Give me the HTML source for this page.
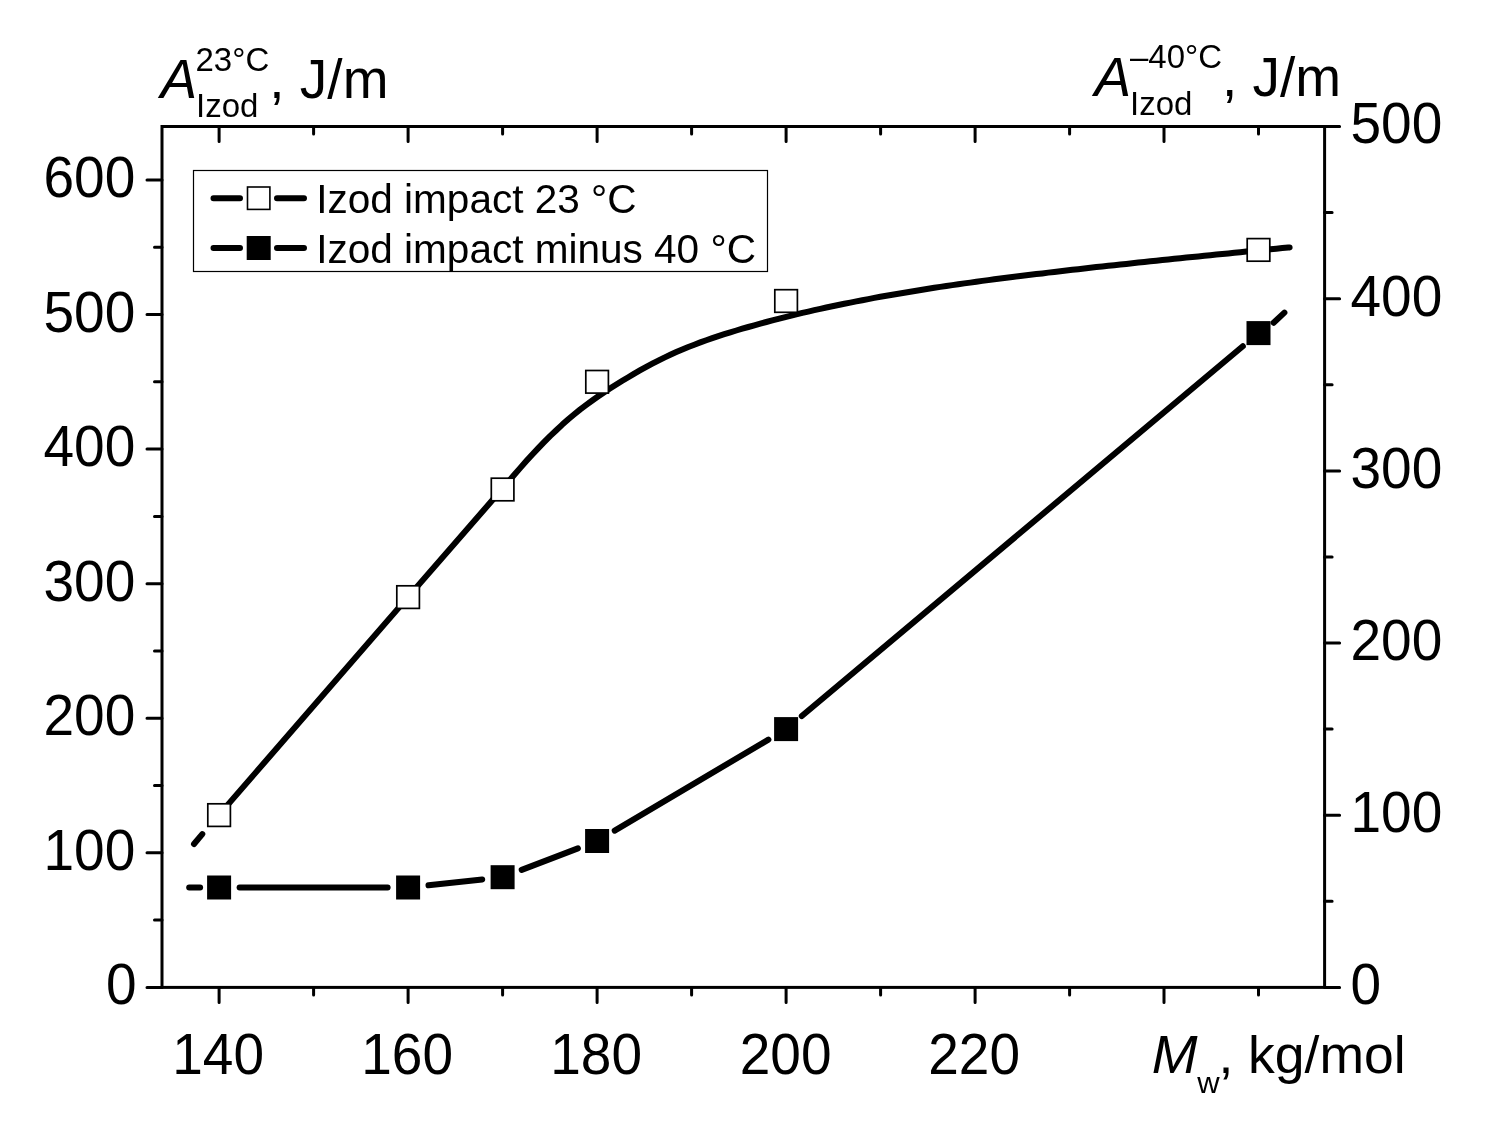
<!DOCTYPE html>
<html lang="en"><head><meta charset="utf-8"><title>Izod impact vs Mw</title>
<style>html,body{margin:0;padding:0;background:#fff}svg{display:block;will-change:transform}text{font-family:"Liberation Sans",sans-serif;fill:#000}</style></head><body>
<svg width="1491" height="1131" viewBox="0 0 1491 1131">
<rect width="1491" height="1131" fill="#fff"/>
<g fill="none" stroke="#000" stroke-width="6" stroke-linecap="round" stroke-linejoin="round">
<path d="M218.8,815.1 L408.0,597.1 L502.3,488.8 L508.3,481.7 L514.3,474.8 L520.3,467.9 L526.3,461.1 L532.3,454.5 L538.3,448.1 L544.3,441.9 L550.3,435.9 L556.3,430.2 L562.3,424.6 L568.3,419.3 L574.3,414.3 L580.3,409.4 L586.3,404.9 L592.3,400.5 L598.3,396.3 L604.3,392.2 L610.3,388.3 L616.3,384.5 L622.3,380.8 L628.3,377.2 L634.3,373.6 L640.3,370.2 L646.3,366.9 L652.3,363.7 L658.3,360.6 L664.3,357.6 L670.3,354.8 L676.3,352.1 L682.3,349.5 L688.3,347.0 L694.3,344.7 L700.3,342.4 L706.3,340.2 L712.3,338.1 L718.3,336.1 L724.3,334.2 L730.3,332.3 L736.3,330.5 L742.3,328.7 L748.3,327.0 L754.3,325.3 L760.3,323.6 L766.3,322.0 L772.3,320.4 L778.3,318.8 L784.3,317.3 L790.3,315.8 L796.3,314.4 L802.3,312.9 L808.3,311.6 L814.3,310.2 L820.3,308.9 L826.3,307.5 L832.3,306.3 L838.3,305.0 L844.3,303.8 L850.3,302.6 L856.3,301.4 L862.3,300.2 L868.3,299.1 L874.3,297.9 L880.3,296.8 L886.3,295.8 L892.3,294.7 L898.3,293.7 L904.3,292.7 L910.3,291.7 L916.3,290.7 L922.3,289.7 L928.3,288.8 L934.3,287.8 L940.3,286.9 L946.3,286.0 L952.3,285.1 L958.3,284.3 L964.3,283.4 L970.3,282.6 L976.3,281.8 L982.3,280.9 L988.3,280.1 L994.3,279.3 L1000.3,278.6 L1006.3,277.8 L1012.3,277.0 L1018.3,276.3 L1024.3,275.5 L1030.3,274.8 L1036.3,274.1 L1042.3,273.4 L1048.3,272.6 L1054.3,271.9 L1060.3,271.2 L1066.3,270.5 L1072.3,269.8 L1078.3,269.2 L1084.3,268.5 L1090.3,267.8 L1096.3,267.1 L1102.3,266.5 L1108.3,265.8 L1114.3,265.2 L1120.3,264.5 L1126.3,263.9 L1132.3,263.2 L1138.3,262.6 L1144.3,261.9 L1150.3,261.3 L1156.3,260.7 L1162.3,260.1 L1168.3,259.5 L1174.3,258.8 L1180.3,258.2 L1186.3,257.6 L1192.3,257.0 L1198.3,256.4 L1204.3,255.8 L1210.3,255.2 L1216.3,254.6 L1222.3,254.0 L1228.3,253.4 L1234.3,252.8 L1240.3,252.2 L1246.3,251.6 L1252.3,251.0 L1258.3,250.4 L1264.3,249.8 L1270.3,249.3 L1276.3,248.7 L1282.3,248.1 L1288.3,247.5 L1289.6,247.4"/>
<path d="M194,844 L202.3,834.1"/>
<path d="M189.2,887.5 L200.1,887.5"/>
<path d="M239.6,887.5 L387.6,887.5"/>
<path d="M428.5,885.3 L482.2,879.4"/>
<path d="M521.7,869.9 L577.9,848.4"/>
<path d="M614.7,830.6 L768.4,739.6"/>
<path d="M801.8,716.0 L1242.8,346.3"/>
<path d="M1273.6,322.8 L1284.4,312.6"/>
</g>
<rect x="207.8" y="803.8" width="22.6" height="22.6" fill="#fff" stroke="#000" stroke-width="1.7"/>
<rect x="396.8" y="585.8" width="22.6" height="22.6" fill="#fff" stroke="#000" stroke-width="1.7"/>
<rect x="491.3" y="478.2" width="22.6" height="22.6" fill="#fff" stroke="#000" stroke-width="1.7"/>
<rect x="585.8" y="370.5" width="22.6" height="22.6" fill="#fff" stroke="#000" stroke-width="1.7"/>
<rect x="774.8" y="289.7" width="22.6" height="22.6" fill="#fff" stroke="#000" stroke-width="1.7"/>
<rect x="1247.2" y="238.6" width="22.6" height="22.6" fill="#fff" stroke="#000" stroke-width="1.7"/>
<rect x="207.1" y="875.5" width="24" height="24" fill="#000"/>
<rect x="396.1" y="875.5" width="24" height="24" fill="#000"/>
<rect x="490.6" y="865.2" width="24" height="24" fill="#000"/>
<rect x="585.1" y="829.0" width="24" height="24" fill="#000"/>
<rect x="774.1" y="717.1" width="24" height="24" fill="#000"/>
<rect x="1246.5" y="321.1" width="24" height="24" fill="#000"/>
<g fill="none" stroke="#000" stroke-width="3.0">
<rect x="162.0" y="126.5" width="1162.6" height="860.9"/>
<path stroke-linecap="round" d="M219.1,987.4 v15.0 M219.1,126.5 v15.0 M313.6,987.4 v7.5 M313.6,126.5 v7.5 M408.1,987.4 v15.0 M408.1,126.5 v15.0 M502.6,987.4 v7.5 M502.6,126.5 v7.5 M597.1,987.4 v15.0 M597.1,126.5 v15.0 M691.6,987.4 v7.5 M691.6,126.5 v7.5 M786.1,987.4 v15.0 M786.1,126.5 v15.0 M880.6,987.4 v7.5 M880.6,126.5 v7.5 M975.1,987.4 v15.0 M975.1,126.5 v15.0 M1069.6,987.4 v7.5 M1069.6,126.5 v7.5 M1164.0,987.4 v15.0 M1164.0,126.5 v15.0 M1258.5,987.4 v7.5 M1258.5,126.5 v7.5 M162.0,987.4 h-15.0 M162.0,920.1 h-7.5 M162.0,852.8 h-15.0 M162.0,785.5 h-7.5 M162.0,718.2 h-15.0 M162.0,650.9 h-7.5 M162.0,583.7 h-15.0 M162.0,516.4 h-7.5 M162.0,449.1 h-15.0 M162.0,381.8 h-7.5 M162.0,314.5 h-15.0 M162.0,247.2 h-7.5 M162.0,179.9 h-15.0 M1324.6,987.4 h15.0 M1324.6,901.3 h7.5 M1324.6,815.2 h15.0 M1324.6,729.1 h7.5 M1324.6,643.0 h15.0 M1324.6,557.0 h7.5 M1324.6,470.9 h15.0 M1324.6,384.8 h7.5 M1324.6,298.7 h15.0 M1324.6,212.6 h7.5 M1324.6,126.5 h15.0"/>
</g>
<text transform="translate(136.5 1004.4) scale(1 1.04)" font-size="55" text-anchor="end">0</text>
<text transform="translate(135.3 869.8) scale(1 1.04)" font-size="55" text-anchor="end">100</text>
<text transform="translate(135.3 735.2) scale(1 1.04)" font-size="55" text-anchor="end">200</text>
<text transform="translate(135.3 600.7) scale(1 1.04)" font-size="55" text-anchor="end">300</text>
<text transform="translate(135.3 466.1) scale(1 1.04)" font-size="55" text-anchor="end">400</text>
<text transform="translate(135.3 331.5) scale(1 1.04)" font-size="55" text-anchor="end">500</text>
<text transform="translate(135.3 196.9) scale(1 1.04)" font-size="55" text-anchor="end">600</text>
<text transform="translate(1350.5 1004.4) scale(1 1.04)" font-size="55">0</text>
<text transform="translate(1350.5 832.2) scale(1 1.04)" font-size="55">100</text>
<text transform="translate(1350.5 660.0) scale(1 1.04)" font-size="55">200</text>
<text transform="translate(1350.5 487.9) scale(1 1.04)" font-size="55">300</text>
<text transform="translate(1350.5 315.7) scale(1 1.04)" font-size="55">400</text>
<text transform="translate(1350.5 143.0) scale(1 1.04)" font-size="55">500</text>
<text transform="translate(218.1 1074.0) scale(1 1.04)" font-size="55" text-anchor="middle">140</text>
<text transform="translate(407.1 1074.0) scale(1 1.04)" font-size="55" text-anchor="middle">160</text>
<text transform="translate(596.1 1074.0) scale(1 1.04)" font-size="55" text-anchor="middle">180</text>
<text transform="translate(785.6 1074.0) scale(1 1.04)" font-size="55" text-anchor="middle">200</text>
<text transform="translate(974.1 1074.0) scale(1 1.04)" font-size="55" text-anchor="middle">220</text>
<text transform="translate(160.6 98.0) scale(1 1.025)" font-size="55" font-style="italic">A</text>
<text transform="translate(195.5 71.0) scale(1 1.025)" font-size="33">23°C</text>
<text transform="translate(196.0 117.0) scale(1 1.0)" font-size="33">Izod</text>
<text transform="translate(269.3 98.0) scale(1 1.02)" font-size="55">, J/m</text>
<text transform="translate(1094.6 95.7) scale(1 1.025)" font-size="55" font-style="italic">A</text>
<text transform="translate(1130.0 68.0) scale(1 1.025)" font-size="33">–40°C</text>
<text transform="translate(1130.0 114.6) scale(1 1.0)" font-size="33">Izod</text>
<text transform="translate(1222.0 96.1) scale(1 1.02)" font-size="55">, J/m</text>
<text transform="translate(1151.8 1073.4) scale(1 0.985)" font-size="55" font-style="italic">M</text>
<text transform="translate(1197.3 1092.9) scale(1 0.96)" font-size="31">w</text>
<text transform="translate(1218.4 1073.4) scale(1 0.975)" font-size="53.5">, kg/mol</text>
<rect x="193.5" y="170.5" width="574" height="101" fill="#fff" stroke="#000" stroke-width="1.2"/>
<g fill="none" stroke="#000" stroke-width="6" stroke-linecap="round">
<path d="M213.5,198.2 H240 M277,198.2 H304"/>
<path d="M213.5,248.0 H240 M277,248.0 H304"/>
</g>
<rect x="247.5" y="187" width="22.4" height="22.4" fill="#fff" stroke="#000" stroke-width="1.6"/>
<rect x="246.7" y="236" width="24" height="24" fill="#000"/>
<text transform="translate(316.2 213.0) scale(1 1.02)" font-size="40.55">Izod impact 23 °C</text>
<text transform="translate(316.2 263.0) scale(1 1.02)" font-size="40.55">Izod impact minus 40 °C</text>
</svg></body></html>
